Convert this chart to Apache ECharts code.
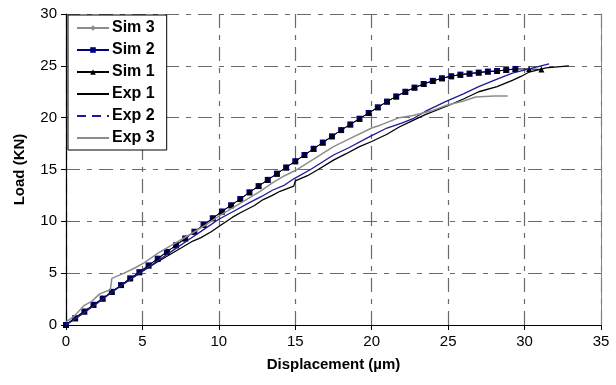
<!DOCTYPE html>
<html><head><meta charset="utf-8">
<script src="https://cdn.jsdelivr.net/npm/echarts@6/dist/echarts.min.js"></script>
<style>html,body{margin:0;padding:0;background:#fff}#c{width:616px;height:385px}</style>
</head><body><div id="c"></div>
<script>
// Simulation curves (x = displacement µm, y = load kN)
const simX = [0,0.6,1.2,1.8,2.4,3.0,3.6,4.2,4.8,5.4,6.0,6.6,7.2,7.8,8.4,9.0,9.6,10.2,10.8,11.4,12.0,12.6,13.2,13.8,14.4,15.0,15.6,16.2,16.8,17.4,18.0,18.6,19.2,19.8,20.4,21.0,21.6,22.2,22.8,23.4,24.0,24.6,25.2,25.8,26.4,27.0,27.6,28.2,28.8,29.4];
const simY = [0,0.65,1.3,1.95,2.55,3.2,3.85,4.5,5.1,5.75,6.4,7.05,7.7,8.35,9.0,9.65,10.3,10.95,11.55,12.15,12.8,13.4,14.0,14.6,15.2,15.8,16.4,17.0,17.6,18.2,18.8,19.35,19.9,20.45,21.0,21.55,22.05,22.5,22.9,23.25,23.55,23.8,24.0,24.15,24.25,24.35,24.45,24.5,24.6,24.7];
const sim1ExtraX = [30.3,31.1];
const sim1ExtraY = [24.7,24.65];
// Experimental curves
const exp1X = [0,0.5,1,2,3,4,5,6,6.8,7.5,8.3,8.8,9.5,10,10.9,11.5,12.3,12.9,13.5,14.0,14.9,15.0,15.8,16.5,17.5,18.3,19.2,20,21,21.8,22.5,23.5,24.9,26,27,28.2,29.2,29.8,30.3,31.4,32.9];
const exp1Y = [0,0.6,1.1,2.1,3.2,4.2,5.2,6.1,6.8,7.4,8.1,8.4,9.0,9.5,10.4,10.9,11.5,12.1,12.5,12.9,13.4,13.9,14.4,15.0,15.9,16.5,17.2,17.7,18.4,19.1,19.6,20.3,21.1,21.8,22.5,23.0,23.6,24.0,24.4,24.8,25.0];
const exp2X = [0,1,2,3,4,5,6,7,8,9,10,11,12,12.8,13.5,14.3,14.9,16,17.5,18.5,19.9,21,22,22.7,23.5,24.9,26,27,28,29.2,30.3,31.6];
const exp2Y = [0,1.0,2.05,3.15,4.2,5.2,6.2,7.2,8.2,9.2,10.2,11.0,11.8,12.4,13.0,13.5,14.1,15.0,16.4,17.1,18.2,19.0,19.5,19.9,20.6,21.6,22.3,23.0,23.6,24.3,24.7,25.2];
const exp3X = [0,0.5,1.0,1.2,1.7,2.2,2.9,3.0,3.8,4.5,5.1,6,6.8,7.5,8.3,9.2,10,10.9,11.8,12.7,13.5,14.3,15,16.2,17.5,18.6,20,20.6,21.8,22.7,24,24.9,26,26.8,28,28.9];
const exp3Y = [0.3,0.8,1.6,1.9,2.3,3.0,3.4,4.5,5.0,5.5,6.0,6.9,7.6,8.2,8.9,9.7,10.5,11.3,12.1,12.9,13.7,14.4,14.9,16.0,17.2,18.0,19.0,19.3,20.0,20.2,20.7,21.2,21.6,22.0,22.1,22.1];
const xTicks = [0,5,10,15,20,25,30,35];
const yTicks = [0,5,10,15,20,25,30];

const pairs = (xs, ys) => xs.map((x, i) => [x, ys[i]]);
const font = '"Liberation Sans", Arial, sans-serif';
const grid = {type:[14,7,5,7], color:'#6a6a6a', width:1.2};
const noSym = {opacity:0};

const chart = echarts.init(document.getElementById('c'), null, {renderer:'canvas'});
chart.setOption({
  animation:false,
  backgroundColor:'#fff',
  grid:{left:66, right:15, top:14, bottom:60},
  legend:{
    orient:'vertical', left:68, top:15,
    backgroundColor:'#fff', borderColor:'#000', borderWidth:1,
    padding:[5,12,4,8], itemGap:6, itemWidth:32, itemHeight:7,
    textStyle:{fontFamily:font, fontWeight:'bold', fontSize:16, lineHeight:16, color:'#000', padding:[0,0,0,-2]},
    data:[
      'Sim 3','Sim 2','Sim 1',
      {name:'Exp 1', itemStyle:noSym},
      {name:'Exp 2', itemStyle:noSym, lineStyle:{type:[9,6]}},
      {name:'Exp 3', itemStyle:noSym}
    ]
  },
  xAxis:{
    type:'value', min:0, max:35, interval:5,
    name:'Displacement (µm)', nameLocation:'middle', nameGap:32,
    nameTextStyle:{fontFamily:font, fontWeight:'bold', fontSize:15, color:'#000'},
    axisLine:{lineStyle:{color:'#000', width:1.2}},
    axisTick:{show:true, length:5, lineStyle:{color:'#000'}},
    axisLabel:{fontFamily:font, fontSize:15, color:'#000', margin:9},
    splitLine:{show:true, lineStyle:grid}
  },
  yAxis:[{
    type:'value', min:0, max:30, interval:5,
    name:'Load (KN)', nameLocation:'middle', nameGap:39,
    nameTextStyle:{fontFamily:font, fontWeight:'bold', fontSize:15, color:'#000'},
    axisLine:{show:true, lineStyle:{color:'#000', width:1.2}},
    axisTick:{show:true, length:5, lineStyle:{color:'#000'}},
    axisLabel:{fontFamily:font, fontSize:15, color:'#000', margin:9},
    splitLine:{show:true, lineStyle:grid}
  },{
    type:'value', min:0, max:30, interval:5, position:'right',
    axisLine:{show:true, lineStyle:{color:'#808080', width:1}},
    axisTick:{show:false}, axisLabel:{show:false}, splitLine:{show:false}
  }],
  series:[
    {name:'Sim 3', type:'line', data:pairs(simX, simY), symbol:'diamond', symbolSize:5,
     itemStyle:{color:'#8c8c8c'}, lineStyle:{color:'#8c8c8c', width:1}, z:2},
    {name:'Sim 2', type:'line', data:pairs(simX, simY), symbol:'rect', symbolSize:6,
     itemStyle:{color:'#000080'}, lineStyle:{color:'#000080', width:1}, z:3},
    {name:'Sim 1', type:'line', data:pairs(simX.concat(sim1ExtraX), simY.concat(sim1ExtraY)), symbol:'triangle', symbolSize:6,
     itemStyle:{color:'#000'}, lineStyle:{color:'#000', width:1}, z:4},
    {name:'Exp 1', type:'line', data:pairs(exp1X, exp1Y), symbol:'none', showSymbol:false,
     itemStyle:{color:'#000'}, lineStyle:{color:'#000', width:1.3}, z:5},
    {name:'Exp 2', type:'line', data:pairs(exp2X, exp2Y), symbol:'none', showSymbol:false,
     itemStyle:{color:'#1a1a9a'}, lineStyle:{color:'#1a1a9a', width:1.3}, z:5},
    {name:'Exp 3', type:'line', data:pairs(exp3X, exp3Y), symbol:'none', showSymbol:false,
     itemStyle:{color:'#8c8c8c'}, lineStyle:{color:'#8c8c8c', width:1.5}, z:5}
  ]
});
</script></body></html>
